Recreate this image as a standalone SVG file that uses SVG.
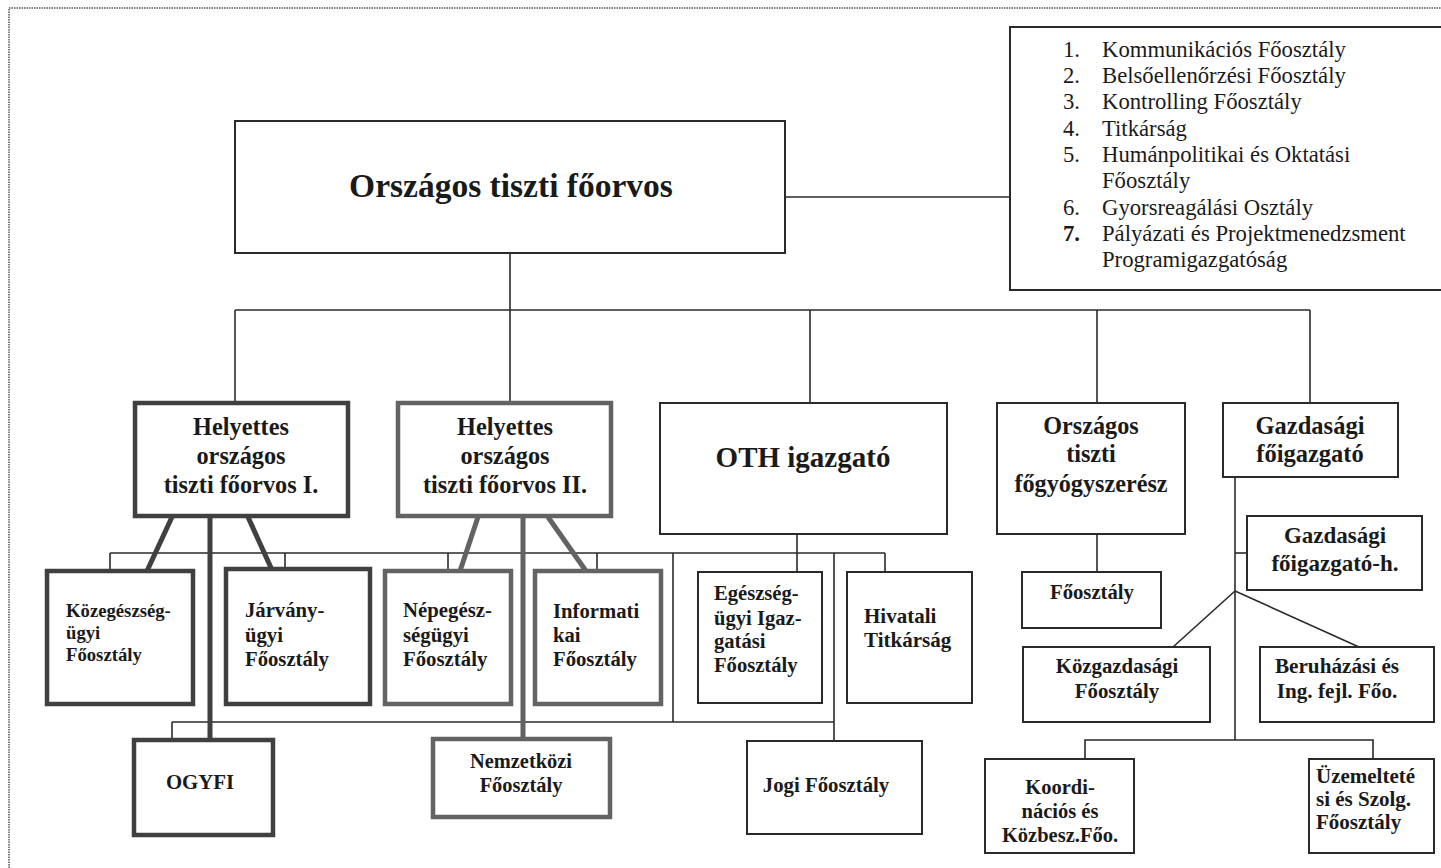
<svg xmlns="http://www.w3.org/2000/svg" width="1441" height="868" viewBox="0 0 1441 868">
<style>
  .bg{fill:#ffffff}
  .frame{stroke:#555;stroke-width:1.5;stroke-dasharray:1.5 1;fill:none}
  .box{fill:#fff;stroke:#2a2a2a;stroke-width:2}
  .boxA{fill:#fff;stroke:#404040;stroke-width:4.5}
  .boxB{fill:#fff;stroke:#636363;stroke-width:4.5}
  .ln{stroke:#2a2a2a;stroke-width:1.6;fill:none}
  .thA{stroke:#404040;stroke-width:5;fill:none}
  .thB{stroke:#636363;stroke-width:5;fill:none}
  text{font-family:"Liberation Serif","Times New Roman",serif;fill:#1a1a1a}
  .b{font-weight:bold}
  .c{text-anchor:middle}
  .list{font-size:22.7px}
</style>
<rect class="bg" x="0" y="0" width="1441" height="868"/>
<path class="frame" d="M9,868 V8 H1441"/>

<g id="connectors">
  <path class="ln" d="M785,197 H1010"/>
  <path class="ln" d="M510,253 V310"/>
  <path class="ln" d="M235,310 H1310"/>
  <path class="ln" d="M235,310 V403"/>
  <path class="ln" d="M510,310 V403"/>
  <path class="ln" d="M810,310 V403"/>
  <path class="ln" d="M1097,310 V403"/>
  <path class="ln" d="M1310,310 V403"/>
  <path class="ln" d="M110,553 H885"/>
  <path class="ln" d="M110,553 V572"/>
  <path class="ln" d="M285,553 V569"/>
  <path class="ln" d="M448,553 V572"/>
  <path class="ln" d="M597,553 V571"/>
  <path class="ln" d="M673,553 V722"/>
  <path class="ln" d="M797,534 V572"/>
  <path class="ln" d="M834,553 V741"/>
  <path class="ln" d="M885,553 V572"/>
  <path class="ln" d="M172,722 H834"/>
  <path class="ln" d="M172,722 V740"/>
  <path class="ln" d="M1097,534 V572"/>
  <path class="ln" d="M1235,477 V740"/>
  <path class="ln" d="M1235,553 H1247"/>
  <path class="ln" d="M1235,591 L1173,647"/>
  <path class="ln" d="M1235,591 L1359,647"/>
  <path class="ln" d="M1085,759 V740 H1373 V759"/>
  <path class="thA" d="M172,517 L147,571"/>
  <path class="thA" d="M248,517 L272,570"/>
  <path class="thA" d="M210,517 V740"/>
  <path class="thB" d="M478,517 L460,571"/>
  <path class="thB" d="M548,517 L586,571"/>
  <path class="thB" d="M523,517 V739"/>
</g>

<g id="n-main">
  <rect class="box" x="235" y="121" width="550" height="132"/>
  <text class="b c" x="511" y="197" font-size="33.5">Országos tiszti főorvos</text>
</g>

<g id="n-list">
  <rect class="box" x="1010" y="27" width="440" height="263"/>
  <text class="list" x="1063" y="57">1.</text><text class="list" x="1102" y="57">Kommunikációs Főosztály</text>
  <text class="list" x="1063" y="83">2.</text><text class="list" x="1102" y="83">Belsőellenőrzési Főosztály</text>
  <text class="list" x="1063" y="109">3.</text><text class="list" x="1102" y="109">Kontrolling Főosztály</text>
  <text class="list" x="1063" y="136">4.</text><text class="list" x="1102" y="136">Titkárság</text>
  <text class="list" x="1063" y="162">5.</text><text class="list" x="1102" y="162">Humánpolitikai és Oktatási</text>
  <text class="list" x="1102" y="188">Főosztály</text>
  <text class="list" x="1063" y="215">6.</text><text class="list" x="1102" y="215">Gyorsreagálási Osztály</text>
  <text class="list b" x="1063" y="241">7.</text><text class="list" x="1102" y="241">Pályázati és Projektmenedzsment</text>
  <text class="list" x="1102" y="267">Programigazgatóság</text>
</g>

<g id="n-helyettes1">
  <rect class="boxA" x="135" y="403" width="213" height="113"/>
  <text class="b c" x="241" y="435" font-size="24.3">Helyettes</text>
  <text class="b c" x="241" y="464" font-size="24.3">országos</text>
  <text class="b c" x="241" y="493" font-size="24.3">tiszti főorvos I.</text>
</g>

<g id="n-helyettes2">
  <rect class="boxB" x="398" y="403" width="213" height="113"/>
  <text class="b c" x="505" y="435" font-size="24.3">Helyettes</text>
  <text class="b c" x="505" y="464" font-size="24.3">országos</text>
  <text class="b c" x="505" y="493" font-size="24.3">tiszti főorvos II.</text>
</g>

<g id="n-oth">
  <rect class="box" x="660" y="403" width="287" height="131"/>
  <text class="b c" x="803" y="467" font-size="29">OTH igazgató</text>
</g>

<g id="n-gyogyszeresz">
  <rect class="box" x="997" y="403" width="188" height="131"/>
  <text class="b c" x="1091" y="434" font-size="24.2">Országos</text>
  <text class="b c" x="1091" y="462" font-size="24.2">tiszti</text>
  <text class="b c" x="1091" y="492" font-size="24.2">főgyógyszerész</text>
</g>

<g id="n-gazdasagi">
  <rect class="box" x="1223" y="403" width="175" height="74"/>
  <text class="b c" x="1310" y="434" font-size="24.5">Gazdasági</text>
  <text class="b c" x="1310" y="462" font-size="24.5">főigazgató</text>
</g>

<g id="n-gazdasagi-h">
  <rect class="box" x="1247" y="516" width="175" height="74"/>
  <text class="b c" x="1335" y="543" font-size="23">Gazdasági</text>
  <text class="b c" x="1335" y="571" font-size="23">főigazgató-h.</text>
</g>

<g id="n-foosztaly">
  <rect class="box" x="1022" y="572" width="139" height="56"/>
  <text class="b c" x="1092" y="599" font-size="20.7">Főosztály</text>
</g>

<g id="n-kozgazdasagi">
  <rect class="box" x="1023" y="647" width="187" height="75"/>
  <text class="b c" x="1117" y="673" font-size="20.8">Közgazdasági</text>
  <text class="b c" x="1117" y="698" font-size="20.8">Főosztály</text>
</g>

<g id="n-beruhazasi">
  <rect class="box" x="1260" y="647" width="174" height="75"/>
  <text class="b c" x="1337" y="673" font-size="21.2">Beruházási és</text>
  <text class="b c" x="1337" y="698" font-size="21.2">Ing. fejl. Főo.</text>
</g>

<g id="n-koordi">
  <rect class="box" x="985" y="759" width="149" height="94"/>
  <text class="b c" x="1060" y="794" font-size="20.5">Koordi-</text>
  <text class="b c" x="1060" y="818" font-size="20.5">nációs és</text>
  <text class="b c" x="1060" y="842" font-size="20.5">Közbesz.Főo.</text>
</g>

<g id="n-uzem">
  <rect class="box" x="1309" y="759" width="125" height="94"/>
  <text class="b" x="1316" y="783" font-size="21">Üzemelteté</text>
  <text class="b" x="1316" y="806" font-size="21">si és Szolg.</text>
  <text class="b" x="1316" y="829" font-size="21">Főosztály</text>
</g>

<g id="n-kozegeszseg">
  <rect class="boxA" x="47" y="571" width="146" height="133"/>
  <text class="b" x="66" y="617" font-size="18.7">Közegészség-</text>
  <text class="b" x="66" y="639" font-size="18.7">ügyi</text>
  <text class="b" x="66" y="661" font-size="18.7">Főosztály</text>
</g>

<g id="n-jarvany">
  <rect class="boxA" x="226" y="569" width="144" height="135"/>
  <text class="b" x="245" y="617" font-size="20.7">Járvány-</text>
  <text class="b" x="245" y="642" font-size="20.7">ügyi</text>
  <text class="b" x="245" y="666" font-size="20.7">Főosztály</text>
</g>

<g id="n-nepegeszseg">
  <rect class="boxB" x="385" y="571" width="126" height="133"/>
  <text class="b" x="403" y="617" font-size="20.8">Népegész-</text>
  <text class="b" x="403" y="642" font-size="20.8">ségügyi</text>
  <text class="b" x="403" y="666" font-size="20.8">Főosztály</text>
</g>

<g id="n-informatikai">
  <rect class="boxB" x="535" y="571" width="126" height="133"/>
  <text class="b" x="553" y="618" font-size="20.7">Informati</text>
  <text class="b" x="553" y="642" font-size="20.7">kai</text>
  <text class="b" x="553" y="666" font-size="20.7">Főosztály</text>
</g>

<g id="n-egeszsegugyi">
  <rect class="box" x="698" y="572" width="124" height="131"/>
  <text class="b" x="714" y="600" font-size="20.6">Egészség-</text>
  <text class="b" x="714" y="625" font-size="20.6">ügyi Igaz-</text>
  <text class="b" x="714" y="648" font-size="20.6">gatási</text>
  <text class="b" x="714" y="672" font-size="20.6">Főosztály</text>
</g>

<g id="n-hivatali">
  <rect class="box" x="847" y="572" width="125" height="131"/>
  <text class="b" x="864" y="623" font-size="21">Hivatali</text>
  <text class="b" x="864" y="647" font-size="21">Titkárság</text>
</g>

<g id="n-ogyfi">
  <rect class="boxA" x="134" y="740" width="139" height="95"/>
  <text class="b c" x="200" y="789" font-size="20.8">OGYFI</text>
</g>

<g id="n-nemzetkozi">
  <rect class="boxB" x="433" y="739" width="177" height="78"/>
  <text class="b c" x="521" y="768" font-size="20.4">Nemzetközi</text>
  <text class="b c" x="521" y="792" font-size="20.4">Főosztály</text>
</g>

<g id="n-jogi">
  <rect class="box" x="747" y="741" width="175" height="93"/>
  <text class="b c" x="826" y="792" font-size="20.8">Jogi Főosztály</text>
</g>
</svg>
